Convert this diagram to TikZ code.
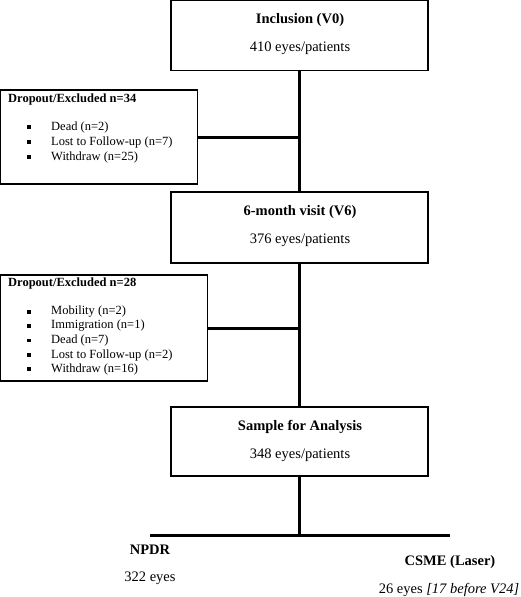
\documentclass[tikz,border=0pt]{standalone}
\usepackage{fontspec}
\setmainfont{Liberation Serif}
\begin{document}
\begin{tikzpicture}[x=1pt,y=-1pt,
  mainbox/.style={draw,line width=1.3pt,minimum width=257pt,inner sep=0pt},
  dropbox/.style={draw,line width=1.3pt,inner sep=0pt},
  conn/.style={line width=3pt},
  hd/.style={inner sep=0pt,font=\fontsize{14.5}{17}\selectfont\bfseries},
  tx/.style={inner sep=0pt,font=\fontsize{14.5}{17}\selectfont},
  dhd/.style={inner sep=0pt,anchor=west,font=\fontsize{12.5}{15}\selectfont\bfseries},
  dtx/.style={inner sep=0pt,anchor=west,font=\fontsize{12.5}{15}\selectfont},
  bul/.style={fill,minimum size=3.6pt,inner sep=0pt}]
\useasboundingbox[fill=white] (0,0) rectangle (520,597);

% main boxes
\node[mainbox,minimum height=69.5pt] (v0) at (299.5,35.5) {};
\node[mainbox,minimum height=71pt] (v6) at (299.5,227.5) {};
\node[mainbox,minimum height=69pt] (sa) at (299.5,441.5) {};

\node[hd] (v0a) at (300,20) {Inclusion (V0)};
\node[tx] (v0b) at (300,48) {410 eyes/patients};
\node[hd] (v6a) at (300,212) {6-month visit (V6)};
\node[tx] (v6b) at (300,240) {376 eyes/patients};
\node[hd] (saa) at (300,427) {Sample for Analysis};
\node[tx] (sab) at (300,455) {348 eyes/patients};

% dropout boxes
\node[dropbox,minimum width=197pt,minimum height=94pt] (d1) at (99.3,137) {};
\node[dropbox,minimum width=207pt,minimum height=106pt] (d2) at (104.3,328) {};

\node[dhd] (d1t) at (8,99) {Dropout/Excluded n=34};
\foreach \y/\t [count=\i] in {127/Dead (n=2),142/Lost to Follow-up (n=7),157/Withdraw (n=25)}{
  \node[bul] (d1b\i) at (29,\y) {};
  \node[dtx] (d1x\i) at (51,\y) {\t};
}
\node[dhd] (d2t) at (8,283) {Dropout/Excluded n=28};
\foreach \y/\t [count=\i] in {312/Mobility (n=2),326/Immigration (n=1),340.5/Dead (n=7),355/Lost to Follow-up (n=2),369/Withdraw (n=16)}{
  \node[bul] (d2b\i) at (29,\y) {};
  \node[dtx] (d2x\i) at (51,\y) {\t};
}

% connectors
\draw[conn] (v0.south) -- (v6.north);
\draw[conn] (d1.east) -- (d1.east -| v0.south);
\draw[conn] (v6.south) -- (sa.north);
\draw[conn] (d2.east) -- (d2.east -| v6.south);
\coordinate (hl) at (150,535);
\coordinate (hr) at (450,535);
\draw[conn] (sa.south) -- (sa.south |- hl);
\draw[conn] (hl) -- (hr);

% outcomes
\node[hd] (np) at (150,550) {NPDR};
\node[tx] (npn) at (150,578) {322 eyes};
\node[hd] (cs) at (450,562) {CSME (Laser)};
\node[tx] (csn) at (449,590) {26 eyes \textit{[17 before V24]}};
\end{tikzpicture}
\end{document}
